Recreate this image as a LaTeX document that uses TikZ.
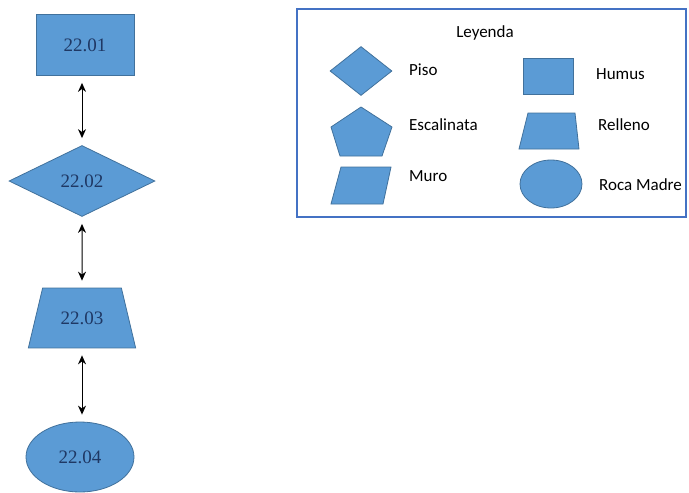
\documentclass[tikz,border=0pt]{standalone}
\usepackage{fontspec}
\setmainfont{Liberation Serif}
\newfontfamily\legendfont{Carlito}
\usetikzlibrary{shapes.geometric,arrows.meta}
\definecolor{shapefill}{HTML}{5B9BD5}
\definecolor{shapeline}{HTML}{41719C}
\definecolor{labelnavy}{HTML}{1F3864}
\definecolor{frameblue}{HTML}{4472C4}

\tikzset{
  capa/.style={draw=shapeline, fill=shapefill, line width=0.8pt, text=labelnavy,
    font=\fontsize{19}{22}\selectfont, inner sep=0pt},
  simbolo/.style={draw=shapeline, fill=shapefill, line width=0.8pt, inner sep=0pt},
  leyendatxt/.style={font=\legendfont\fontsize{17}{20}\selectfont, anchor=west, inner sep=0pt},
  enlace/.style={<->, >={Stealth[length=9pt,width=8pt]}, line width=1pt,
    shorten <=7pt, shorten >=7pt}
}

\begin{document}
\begin{tikzpicture}[x=1pt, y=-1pt]
        \useasboundingbox (0,0) rectangle (689,493);
        % \draw[help lines, gray!50, very thin] (0,0) grid[step=50] (689,493);

        % unidades
        \node[capa, rectangle, minimum width=98pt, minimum height=61pt] (c01) at (85,45) {22.01};
        \node[capa, diamond, minimum width=146pt, minimum height=71pt] (c02) at (82,181) {22.02};
        \node[capa, trapezium, trapezium angle=76.6, inner xsep=18pt, inner ysep=23.5pt] (c03) at (82,318) {22.03};
        \node[capa, ellipse, minimum width=108pt, minimum height=70pt] (c04) at (80,457) {22.04};

        \draw[enlace] (c02.north |- c01.south) -- (c02.north);
        \draw[enlace] (c02.south) -- (c03.north);
        \draw[enlace] (c03.south) -- (c03.south |- c04.north);

        % leyenda
        \draw[frameblue, line width=1.2pt] (297,9) rectangle (686,217);
        \node[font=\legendfont\fontsize{17}{20}\selectfont] (leyenda) at (485,33) {Leyenda};

        \node[simbolo, diamond, minimum width=62pt, minimum height=49pt] (piso) at (361,71) {};
        \node[leyendatxt] at (409,70) {Piso};

        \draw[simbolo] (361,107) -- (392,127) -- (382,156) -- (340,156) -- (331,127) -- cycle;
        \node[leyendatxt] at (409,125) {Escalinata};

        \draw[simbolo] (341,167) -- (391,167) -- (383,204) -- (331,204) -- cycle;
        \node[leyendatxt] at (409,176) {Muro};

        \node[simbolo, rectangle, minimum width=50pt, minimum height=36pt] (humus) at (548,76) {};
        \node[leyendatxt] at (596,74) {Humus};

        \draw[simbolo] (528,113) -- (575,113) -- (579,149) -- (519,149) -- cycle;
        \node[leyendatxt] at (598,125) {Relleno};

        \node[simbolo, ellipse, minimum width=62pt, minimum height=48pt] (roca) at (551,184) {};
        \node[leyendatxt] at (599,185) {Roca Madre};
      \end{tikzpicture}
\end{document}
